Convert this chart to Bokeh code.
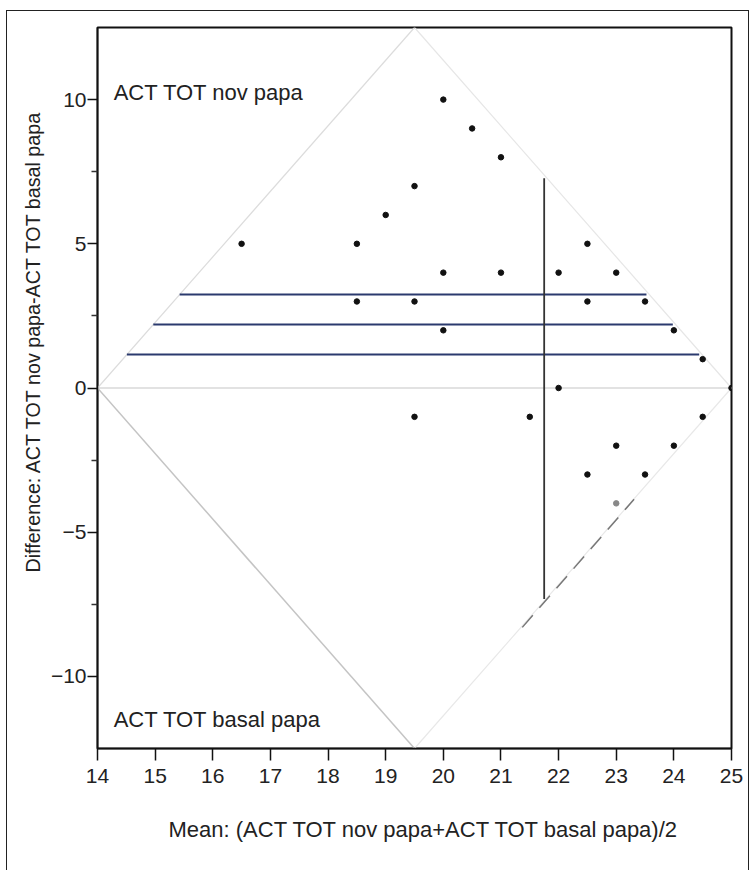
from bokeh.plotting import figure
from bokeh.models import FixedTicker, Label, Title
from bokeh.embed import file_html
from bokeh.resources import INLINE

# Data (mean of pair, difference of pair)
means = [16.5, 18.5, 18.5, 19.0, 19.5, 19.5, 19.5, 20.0, 20.0, 20.0, 20.5, 21.0, 21.0,
         21.5, 22.0, 22.0, 22.5, 22.5, 22.5, 23.0, 23.0, 23.0, 23.5, 23.5, 24.0, 24.0,
         24.5, 24.5, 25.0]
diffs = [5, 5, 3, 6, 7, 3, -1, 10, 4, 2, 9, 8, 4,
         -1, 4, 0, 5, 3, -3, 4, -2, -4, 3, -3, 2, -2,
         1, -1, 0]
point_colors = ["#111111"] * len(means)
point_colors[21] = "#888888"

mean_diff = 2.20
upper_ci = 3.24
lower_ci = 1.16
mean_of_means = 21.75
vline_range = [-7.32, 7.27]
dash_x = [21.37, 23.31]
dash_y = [-8.3, -3.86]

x_range = (14, 25)
y_range = (-12.5, 12.5)
x_ticks = list(range(14, 26))
y_ticks = [-10, -5, 0, 5, 10]
y_minor = [-7.5, -2.5, 2.5, 7.5]

x_title = "Mean: (ACT TOT nov papa+ACT TOT basal papa)/2"
y_title = "Difference: ACT TOT nov papa-ACT TOT basal papa"

FONT = "Liberation Sans"

p = figure(width=743, height=860, x_range=x_range, y_range=y_range,
           output_backend="svg", toolbar_location=None,
           min_border_left=90, min_border_right=19, min_border_top=16, min_border_bottom=123)
p.styles = {"border-left": "1.5px solid #222", "border-top": "1.5px solid #222",
            "border-right": "1.5px solid #222", "box-sizing": "border-box",
            "margin-left": "6px", "margin-top": "10px"}

p.grid.visible = False
p.outline_line_color = "#111111"
p.outline_line_width = 2
p.background_fill_color = "white"
p.border_fill_color = "white"

# diamond
cx = (x_range[0] + x_range[1]) / 2
dx = [x_range[0], cx, x_range[1], cx, x_range[0]]
dy = [0, y_range[1], 0, y_range[0], 0]
p.line(dx[:2], dy[:2], line_color="#dcdcdc", line_width=1.2)
p.line(dx[1:3], dy[1:3], line_color="#e6e6e6", line_width=1.2)
p.line(dx[2:4], dy[2:4], line_color="#e8e8e8", line_width=1.2)
p.line(dx[3:5], dy[3:5], line_color="#c4c4c4", line_width=1.5)

# zero line
p.line([x_range[0], x_range[1]], [0, 0], line_color="#d8d8d8", line_width=1.5)

# mean difference and CI lines, bounded by diamond
half_w = (x_range[1] - x_range[0]) / 2
for yv in [upper_ci, mean_diff, lower_ci]:
    off = half_w * yv / y_range[1]
    p.line([x_range[0] + off, x_range[1] - off - 0.05], [yv, yv],
           line_color="#2b3a6e", line_width=2)

# vertical line at mean of means
p.line([mean_of_means, mean_of_means], vline_range, line_color="#333333", line_width=1.8)

# dashed line
p.line(dash_x, dash_y, line_color="#777777", line_width=1.5, line_dash="16 10")

# points
p.scatter(means, diffs, size=5.5, color=point_colors, marker="circle")

# labels inside
p.add_layout(Label(x=14.28, y=10.25, text="ACT TOT nov papa", text_font=FONT,
                   text_font_size="22px", text_color="#222", text_baseline="middle"))
p.add_layout(Label(x=14.28, y=-11.5, text="ACT TOT basal papa", text_font=FONT,
                   text_font_size="22px", text_color="#222", text_baseline="middle"))

# axes
p.xaxis.ticker = FixedTicker(ticks=x_ticks)
p.yaxis.ticker = FixedTicker(ticks=y_ticks, minor_ticks=y_minor)
for ax in [p.xaxis[0], p.yaxis[0]]:
    ax.axis_line_color = "#111111"
    ax.axis_line_width = 1.5
    ax.major_tick_in = 0
    ax.major_tick_line_width = 1.5
    ax.major_tick_line_color = "#111111"
    ax.major_label_text_font = FONT
    ax.major_label_text_font_size = "21px"
    ax.major_label_text_color = "#222"
p.xaxis.major_tick_out = 12
p.yaxis.major_tick_out = 10
p.xaxis.minor_tick_line_color = None
p.yaxis.minor_tick_in = 0
p.yaxis.minor_tick_out = 6
p.yaxis.minor_tick_line_width = 1.5
p.yaxis.minor_tick_line_color = "#333333"
p.xaxis.major_label_standoff = 8
p.yaxis.major_label_standoff = 1

# axis titles as side titles (to allow offset like the reference)
p.add_layout(Title(text=y_title, align="left", offset=176, standoff=8,
                   text_font=FONT, text_font_size="19.7px", text_font_style="normal",
                   text_color="#222"), "left")
p.add_layout(Title(text=x_title, align="left", offset=71, standoff=58,
                   text_font=FONT, text_font_size="22px", text_font_style="normal",
                   text_color="#222"), "below")

open("out.html", "w").write(file_html(p, INLINE))
